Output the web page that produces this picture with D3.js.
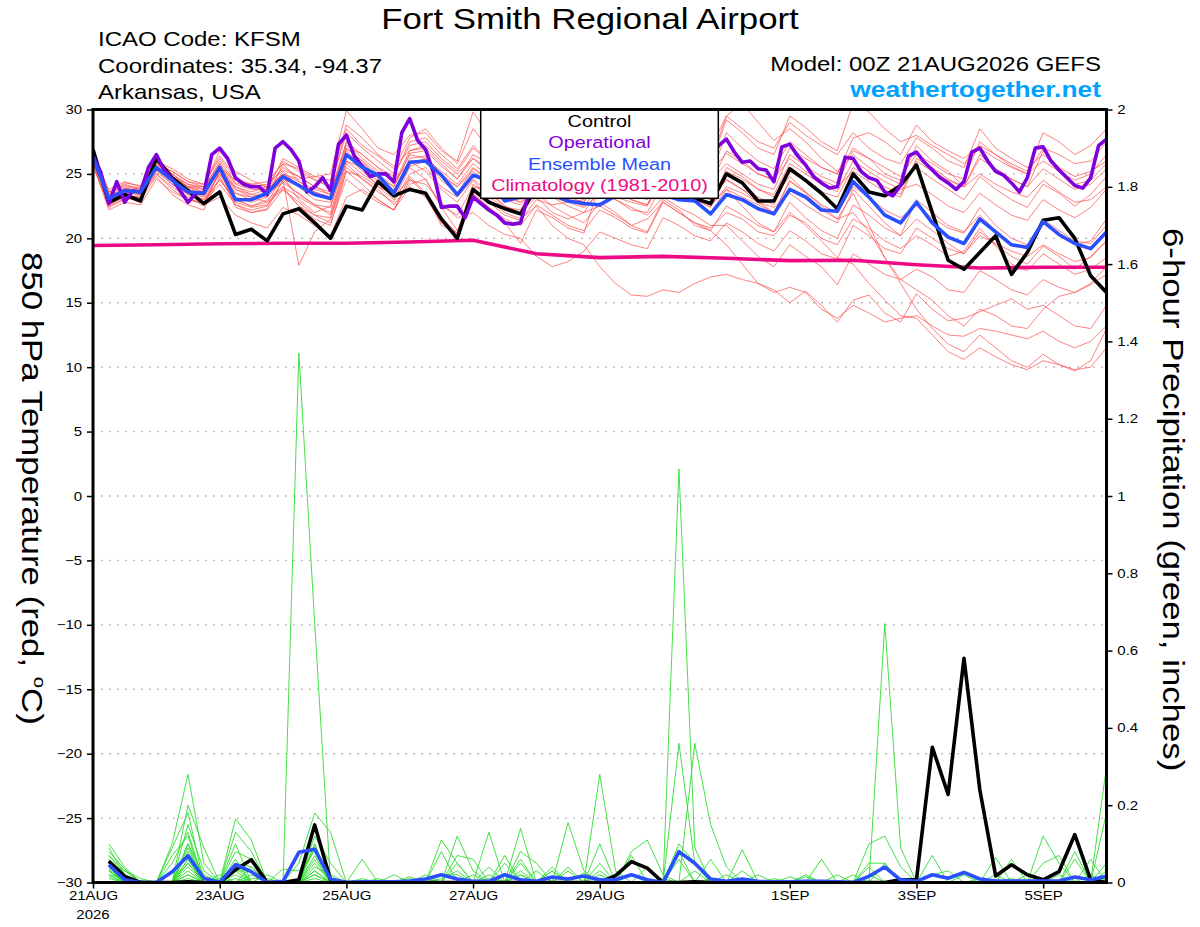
<!DOCTYPE html>
<html lang="en">
<head>
  <meta charset="UTF-8">
  <title>Fort Smith Regional Airport - GEFS plume</title>
  <script src="https://d3js.org/d3.v7.min.js"></script>
  <style>
    body { margin: 0; background: #fff; }
    text { font-family: "Liberation Sans", Arial, Helvetica, sans-serif; }
  </style>
</head>
<body>
  <svg id="chart" width="1200" height="927"></svg>
  <script>
    // 6-hourly steps from 00Z 21AUG2026 (index 0) to 00Z 6SEP2026 (index 64)
    const dateTickSteps = [0, 8, 16, 24, 32, 44, 52, 60];
    const dateTickLabels = ["21AUG", "23AUG", "25AUG", "27AUG", "29AUG", "1SEP", "3SEP", "5SEP"];
    const tempTicks = [-30, -25, -20, -15, -10, -5, 0, 5, 10, 15, 20, 25, 30];
    const precipTicks = [0, 0.2, 0.4, 0.6, 0.8, 1, 1.2, 1.4, 1.6, 1.8, 2];

    // 850 hPa temperature, deg C
    const controlTemp = [26.9,22.8,23.4,22.9, 26.2,24.7,23.7,22.7, 23.6,20.3,20.7,19.8, 21.9,22.3,21.2,20.0,
      22.5,22.2,24.4,23.3, 23.8,23.5,21.5,20.0, 23.8,22.8,22.3,21.9, 24.0,24.5,24.2,23.8,
      24.6,25.0,24.4,24.8, 24.5,24.0,23.1,22.7, 25.0,24.3,22.9,22.9, 25.4,24.5,23.5,22.3,
      25.0,23.6,23.3,24.1, 25.7,22.0,18.3,17.6, 18.9,20.2,17.2,18.9, 21.4,21.6,20.0,17.1, 15.8];

    const meanTemp = [26.3,23.1,23.7,23.6, 25.5,24.5,23.6,23.5, 25.5,23.0,23.0,23.5, 24.8,24.1,23.4,23.1,
      26.5,25.5,24.9,23.5, 25.9,26.0,24.9,23.4, 24.9,24.5,22.9,23.2, 23.6,23.4,22.9,22.7,
      22.6,23.3,23.8,23.6, 23.4,23.0,22.9,21.9, 23.4,23.0,22.3,21.9, 23.8,23.2,22.2,22.1,
      24.4,23.2,21.8,21.2, 22.8,21.2,20.1,19.6, 21.5,20.5,19.5,19.3, 21.3,20.3,19.6,19.2, 20.5];

    // operational run is 3-hourly (129 values)
    const operationalTemp = [26.4,25.1,22.7,24.4,22.8,23.7,23.6,25.5,26.5,25.3,
      24.6,23.7,22.8,23.5,23.5,26.5,27.0,26.2,24.7,24.2,
      24.0,24.0,23.4,27.0,27.5,26.9,26.0,23.6,24.0,24.7,
      23.7,27.3,28.0,26.4,25.6,24.8,25.0,25.0,24.4,28.2,
      29.3,27.6,26.9,25.1,22.4,22.5,22.5,21.6,23.2,22.7,
      22.2,21.8,21.2,21.1,21.2,23.4,24.5,25.5,25.8,26.0,
      25.2,24.8,25.5,26.5,27.0,26.8,26.0,25.2,24.6,24.2,
      25.0,26.2,26.9,26.5,25.8,25.3,24.8,25.0,26.0,27.2,
      27.7,26.7,25.9,26.0,25.4,25.3,24.4,27.1,27.3,26.4,
      25.7,24.8,24.3,23.9,24.0,26.3,26.2,25.2,24.7,24.5,
      23.6,23.3,24.1,26.4,26.7,25.9,25.3,24.7,24.3,23.8,
      24.4,26.7,27.0,26.0,25.2,24.9,24.3,23.6,24.7,27.0,
      27.1,26.0,25.3,24.7,24.1,23.9,24.7,27.2,27.7];

    // daily climatology 1981-2010
    const climTemp = [19.44,19.5,19.58,19.62,19.62,19.72,19.85,18.8,18.5,18.6,18.45,18.27,18.3,17.95,17.7,17.75,17.75];

    const tempMembers = [
      [26.0,23.5,24.2,23.8, 25.8,25.0,24.0,23.8, 26.0,24.3,24.0,24.2, 25.3,24.8,24.0,23.6, 27.5,26.5,25.5,24.2, 26.8,27.0,25.8,24.6, 26.5,25.8,24.6,24.2, 25.5,25.0,24.7,24.6, 25.8,25.4,24.8,24.2, 26.4,25.5,25.0,24.5, 25.8,25.0,24.2,23.8, 26.5,25.6,24.8,24.3, 26.8,26.2,25.0,24.5, 27.2,26.0,25.2,24.0, 26.5,25.4,24.6,24.0, 26.8,25.5,24.2,24.5, 25.8],
      [26.2,22.5,23.0,23.2, 25.0,24.0,23.2,22.5, 25.3,22.4,22.0,22.3, 24.5,17.9,20.5,21.5, 25.2,24.8,24.0,23.0, 25.5,24.6,22.5,21.8, 24.0,23.8,22.5,22.0, 23.2,22.0,21.5,22.0, 22.5,21.8,21.0,21.5, 22.8,22.0,21.2,20.8, 22.0,21.5,20.5,20.2, 21.8,21.2,20.0,19.5, 21.5,20.8,19.8,19.2, 20.2,19.5,18.6,19.0, 20.8,19.4,18.0,17.5, 18.8,18.0,17.2,17.6, 18.5],
      [26.5,23.8,24.4,24.0, 26.3,24.8,24.0,24.0, 25.5,24.5,24.2,24.0, 25.0,24.6,24.8,25.0, 29.9,28.5,27.0,26.5, 28.0,28.2,26.8,26.0, 29.8,28.0,26.5,25.5, 28.5,27.5,26.0,25.5, 29.0,28.2,27.0,26.2, 28.5,27.8,26.5,26.0, 29.5,28.5,27.5,27.0, 29.0,28.0,27.2,26.5, 28.2,27.0,26.2,25.8, 27.8,27.0,26.0,25.5, 28.5,27.0,26.2,25.5, 26.5,25.5,24.8,25.2, 26.0],
      [25.8,22.8,23.5,23.4, 25.2,24.2,23.5,23.0, 25.0,23.5,23.2,22.8, 24.8,23.0,22.0,22.5, 26.0,25.0,24.2,23.5, 25.6,26.0,24.5,23.5, 25.0,24.0,23.2,22.8, 24.2,23.5,23.0,22.5, 24.0,23.2,22.8,22.5, 24.5,23.5,22.8,22.0, 23.8,22.5,21.2,20.5, 22.0,21.0,19.8,18.5, 18.0,16.5,15.2,14.0, 13.8,12.5,11.2,10.6, 11.5,10.8,10.2,9.8, 10.5,10.2,9.8,10.0, 11.5],
      [26.5,23.2,23.8,23.5, 25.5,24.5,23.5,23.2, 25.0,23.0,22.5,23.0, 24.0,23.2,22.5,22.0, 26.0,25.5,24.0,23.5, 26.0,25.2,23.8,22.8, 24.5,23.0,22.0,21.5, 22.5,21.0,20.0,19.5, 17.8,16.5,15.6,15.5, 16.0,15.8,16.5,17.0, 17.2,16.8,16.5,16.0, 15.0,15.9,14.8,13.5, 15.2,15.6,14.2,13.5, 15.7,14.5,13.6,13.8, 14.3,14.8,15.3,14.5, 14.8,14.0,13.2,13.0, 14.8],
      [26.2,23.0,23.8,23.6, 25.6,24.6,23.8,23.5, 25.5,23.5,23.0,23.5, 25.2,24.0,23.0,22.8, 27.0,26.0,25.0,24.0, 26.5,26.2,25.0,24.0, 25.5,24.5,23.5,23.0, 24.5,23.8,23.2,22.8, 24.6,23.5,23.0,22.6, 25.0,24.0,23.2,22.5, 24.0,23.5,22.8,22.0, 24.5,23.5,22.2,21.5, 22.0,20.5,18.5,16.5, 14.5,13.0,11.8,11.2, 12.5,11.5,10.5,10.0, 11.0,10.2,9.7,10.5, 13.0],
      [26.0,23.0,23.6,23.4, 25.4,24.4,23.6,23.3, 25.8,23.2,22.8,23.2, 24.6,24.0,23.4,23.0, 26.8,25.6,24.8,23.6, 26.2,26.4,25.0,23.5, 25.4,24.6,23.4,22.8, 23.8,23.2,22.8,22.4, 23.5,23.0,22.2,22.0, 24.2,23.6,23.0,22.6, 23.8,23.2,22.6,22.0, 24.4,23.6,22.6,22.0, 24.0,23.2,22.2,21.6, 22.5,21.6,20.8,20.4, 22.4,21.0,20.0,19.5, 21.5,20.6,19.8,19.6, 21.0],
      [26.4,23.6,24.0,23.8, 26.2,25.0,24.2,24.0, 26.8,25.2,24.5,24.0, 26.0,25.2,24.5,24.0, 28.2,27.0,26.0,25.0, 27.2,27.5,26.2,25.2, 27.0,26.0,25.2,24.6, 26.5,26.2,25.5,25.0, 27.5,26.6,25.6,25.0, 27.0,26.0,25.2,24.8, 28.2,27.0,26.0,25.4, 27.5,26.5,25.5,25.0, 27.0,26.2,25.5,24.8, 26.5,25.8,25.0,24.6, 27.5,26.5,25.6,25.0, 27.0,26.5,25.8,26.0, 27.5],
      [25.6,22.6,23.2,23.3, 25.0,23.8,23.0,22.8, 24.6,22.8,22.4,22.6, 24.0,22.5,21.8,21.6, 25.5,24.6,23.6,22.8, 25.0,25.5,24.0,23.2, 24.6,23.5,22.5,22.0, 23.5,22.5,21.8,21.2, 22.8,22.0,21.0,20.5, 23.0,22.2,21.0,20.6, 19.5,18.0,16.5,15.8, 16.2,15.8,14.5,13.8, 14.8,14.2,13.5,13.8, 14.0,13.2,12.5,12.4, 13.0,12.8,12.5,12.2, 12.8,12.0,11.5,12.0, 13.2],
      [26.0,23.2,23.9,23.7, 25.6,24.8,24.0,23.6, 25.2,23.8,23.2,23.6, 24.3,23.5,22.6,22.4, 26.5,25.2,24.5,23.8, 25.8,26.2,25.2,24.2, 25.8,24.8,23.8,23.2, 24.8,23.8,23.0,22.8, 25.0,24.2,23.4,23.0, 25.6,24.6,23.8,23.0, 25.2,24.6,23.8,23.2, 24.8,23.6,22.5,21.5, 23.5,21.0,18.5,16.8, 16.0,15.2,14.0,13.2, 14.5,14.0,13.2,13.0, 14.5,15.5,15.8,16.5, 17.8],
      [26.6,23.4,24.1,23.9, 25.9,24.4,23.4,22.8, 24.2,22.6,22.2,22.5, 24.5,23.4,22.6,21.8, 25.8,24.6,23.8,22.6, 24.2,24.6,22.4,20.6, 23.6,22.8,21.8,21.4, 23.0,22.6,22.8,23.0, 24.5,24.0,23.6,23.2, 24.8,24.2,23.4,23.0, 24.6,23.8,23.2,22.6, 25.2,24.4,23.6,23.2, 25.5,24.8,24.0,23.4, 26.2,25.5,24.6,24.0, 25.0,24.2,23.6,23.2, 24.5,23.6,22.8,23.0, 24.0],
      [25.9,22.9,23.6,23.6, 25.7,25.2,24.4,24.0, 25.8,24.2,23.8,23.8, 25.0,24.4,23.8,23.4, 27.2,26.5,25.5,24.8, 27.5,27.8,26.5,25.4, 27.2,26.0,25.0,24.5, 28.5,29.8,28.5,27.0, 27.0,26.2,25.5,25.2, 26.5,27.5,28.2,27.0, 29.5,30.5,29.0,27.6, 28.5,27.5,26.2,25.2, 26.5,25.5,24.8,24.2, 25.5,24.6,23.8,23.0, 24.8,23.8,23.0,22.4, 24.2,23.5,22.5,23.4, 24.8],
      [25.7,22.4,23.1,23.0, 24.8,23.4,22.6,22.2, 24.8,22.6,22.0,22.2, 23.8,22.8,21.8,21.2, 24.6,23.6,22.8,22.2, 24.8,23.5,21.6,20.4, 23.4,22.4,21.5,21.0, 22.6,21.8,21.0,20.6, 22.2,21.6,20.8,20.4, 22.8,22.0,21.2,20.6, 22.5,21.8,21.0,20.5, 22.8,21.6,20.6,20.0, 22.6,21.8,20.8,20.2, 23.0,22.0,21.0,20.5, 21.8,20.6,19.6,19.2, 21.2,20.2,19.5,19.8, 21.5],
      [26.1,23.3,23.9,23.6, 25.6,24.6,23.9,23.6, 25.6,23.8,23.4,23.8, 24.9,24.2,23.6,23.2, 26.6,25.8,24.8,24.0, 26.6,26.8,25.6,24.6, 26.2,25.4,24.5,23.8, 25.2,24.6,24.0,23.6, 25.8,25.0,24.2,23.8, 26.2,25.6,24.8,24.2, 26.8,26.0,25.0,24.5, 27.0,26.2,25.5,25.0, 27.8,28.2,27.5,26.5, 28.8,27.5,26.8,26.2, 27.2,26.5,25.8,25.2, 28.2,27.5,26.5,27.2, 28.5],
      [26.3,22.7,23.3,23.2, 25.3,24.2,23.4,23.0, 24.5,23.0,22.5,22.8, 23.8,22.5,21.5,21.0, 25.2,24.2,23.0,22.2, 24.5,24.2,22.8,21.6, 22.0,21.0,20.3,20.0, 18.6,17.8,18.2,19.0, 20.5,20.0,19.5,19.2, 21.6,21.0,20.2,19.8, 21.2,20.5,19.6,19.0, 20.6,19.8,18.8,18.4, 21.0,20.2,19.2,18.8, 20.8,20.0,19.2,18.8, 20.2,19.6,19.0,18.6, 19.5,18.8,18.2,18.5, 19.8],
      [26.8,22.6,23.2,22.8, 25.6,24.6,23.8,22.6, 23.2,21.8,21.2,20.8, 22.4,21.8,21.0,20.2, 23.2,23.8,23.0,22.2, 24.0,23.2,21.2,20.4, 24.2,23.2,22.4,22.2, 24.6,24.0,23.5,23.2, 25.2,24.6,23.8,23.2, 24.8,24.0,23.0,22.4, 25.5,24.8,23.8,23.4, 25.8,25.0,24.2,23.6, 26.0,25.2,24.4,23.8, 24.2,23.4,22.5,22.0, 23.5,22.6,21.8,21.4, 23.0,22.2,21.6,22.4, 23.8],
      [26.2,23.1,23.7,23.5, 25.9,25.2,24.4,24.2, 26.2,24.6,24.2,24.4, 25.8,25.4,24.6,24.0, 28.5,27.2,26.4,25.4, 27.8,28.5,27.0,25.8, 28.5,27.0,25.8,25.2, 26.8,26.2,25.5,25.0, 27.2,26.5,25.8,25.5, 28.0,27.0,26.2,25.8, 29.2,28.2,27.0,26.5, 29.5,28.6,27.5,26.8, 30.5,29.8,28.5,27.5, 28.0,27.2,26.5,25.8, 27.0,26.2,25.5,25.0, 26.0,25.2,24.5,25.0, 26.5],
      [25.9,23.0,23.7,23.5, 25.5,24.8,24.2,23.8, 25.6,24.0,23.6,24.0, 25.5,24.8,24.0,23.4, 27.4,26.2,25.2,24.4, 26.0,26.0,24.8,24.0, 25.2,24.2,23.0,22.6, 24.0,23.2,22.5,22.0, 23.8,23.0,22.4,21.8, 23.2,22.4,21.8,21.0, 21.0,19.8,18.6,17.8, 19.5,18.6,17.8,16.4, 18.8,18.0,17.2,16.8, 17.6,17.0,16.0,15.8, 17.5,16.8,16.0,15.6, 16.8,16.2,15.8,16.4, 17.2],
      [26.3,23.6,24.3,24.1, 26.0,25.4,24.6,24.2, 26.4,24.8,24.0,23.8, 26.2,25.5,24.8,24.5, 28.8,27.8,26.5,25.6, 26.8,27.2,26.0,25.0, 26.2,25.2,24.4,24.0, 25.8,25.2,24.8,24.4, 26.5,26.0,25.2,24.6, 27.5,26.8,25.8,25.2, 26.6,25.8,25.0,24.6, 26.2,25.2,24.5,24.0, 25.2,24.4,23.6,23.2, 26.0,25.2,24.5,24.0, 26.2,25.4,24.6,24.0, 25.4,24.6,23.8,24.2, 25.4],
      [25.8,22.2,22.8,22.6, 24.6,23.6,23.0,22.7, 25.2,24.0,23.4,23.2, 25.8,24.4,23.6,23.0, 27.0,26.0,24.6,23.2, 24.6,23.4,21.0,20.4, 23.5,22.4,21.2,19.6, 22.2,21.6,20.8,20.4, 24.2,23.6,23.0,22.6, 25.2,24.4,23.6,23.2, 24.5,23.8,22.8,22.4, 23.5,22.6,21.8,21.2, 23.8,22.5,21.2,20.2, 21.5,20.6,19.6,18.8, 20.5,19.5,18.6,18.0, 19.4,18.6,17.6,18.6, 19.8]
    ];

    // 6-hour precipitation, inches, valid at steps 1..64
    const controlPrecip = [.055,.016,0,0,0,.002,0,0, .033,.059,0,0,.007,.149,.007,0,
      0,0,0,0,0,0,0,0, 0,0,0,0,0,0,0,0,
      .018,.054,.037,0,0,.002,0,0, 0,0,0,0,0,0,0,0,
      0,0,.007,.007,.35,.228,.58,.24, .017,.046,.02,.007,.028,.124,.007,0];

    const meanPrecip = [.046,.007,0,0,.028,.069,.011,0, .046,.028,0,.003,.078,.086,.009,0,
      .002,.002,.002,.004,.009,.02,.009,.003, .003,.02,.007,.003,.014,.009,.017,.007,
      .007,.02,.007,0,.08,.05,.009,.003, .009,.003,.002,.002,.003,.003,.002,0,
      .016,.04,.007,.003,.02,.011,.026,.009, .004,.004,.004,.004,.004,.014,.007,.016];

    const precipMembers = [
      [.10,.04,0,0,.10,.28,.05,0, .165,.11,0,0,.05,.18,.13,0, 0,0,0,0,0,.11,.05,0, 0,0,.14,0,0,0,0,.03, 0,0,0,0,.10,.05,0,0, 0,0,0,0,0,0,0,0, .10,.12,.04,0,0,0,0,0, 0,0,0,.12,.05,0,0,.05],
      [.08,.035,0,0,0,.20,.09,0, .13,.08,0,0,1.37,.67,0,0, 0,0,0,0,0,0,0,0, .13,0,0,0,0,.04,0,0, 0,.08,.11,.02,0,0,0,0, 0,0,0,0,0,.06,0,0, 0,0,0,0,.07,0,0,0, .065,0,0,0,0,0,0,.30],
      [.07,.03,.01,0,.09,.18,0,0, .10,0,0,0,0,.15,0,0, .06,0,0,0,0,0,.12,.03, 0,0,0,0,0,0,0,.28, .03,0,0,0,1.07,.09,0,0, .085,0,0,0,0,0,0,0, 0,0,0,0,0,0,0,0, 0,0,0,0,0,.08,0,0],
      [.06,0,0,0,0,.15,.03,0, .08,.06,0,0,0,.12,.05,0, 0,0,0,0,0,.08,0,0, 0,0,.08,.05,0,0,0,0, 0,0,0,0,.36,.05,0,0, 0,0,0,0,0,0,0,0, 0,.67,.09,0,0,0,0,0, 0,.06,0,0,0,0,.06,0],
      [.05,.02,0,0,.05,.13,0,0, .06,0,0,0,0,.10,0,0, 0,0,.02,0,0,0,0,0, 0,.07,0,0,0,.155,.03,0, 0,0,0,0,0,.36,.15,.04, 0,0,0,0,0,0,0,0, 0,0,0,0,0,0,0,0, .02,0,0,0,0,0,0,.18],
      [.05,0,0,0,0,.10,0,0, 0,.04,0,.035,.03,.08,0,0, 0,0,0,.015,0,0,.07,.06, 0,0,0,0,.04,0,0,.10, 0,0,0,0,0,0,.06,0, 0,0,0,0,.02,0,0,0, .05,.05,0,0,0,0,0,0, 0,0,0,.05,.07,0,0,0],
      [.04,0,0,0,0,.10,.02,0, .05,0,0,0,0,.06,0,0, 0,0,0,0,.02,0,0,0, .04,0,.06,0,0,0,0,0, 0,.07,0,0,.08,0,0,0, 0,0,0,.015,0,0,0,0, 0,0,0,0,.02,.03,0,0, 0,0,0,0,0,.06,0,0],
      [.03,0,.005,0,0,.08,0,0, .03,0,.02,0,0,.05,0,0, 0,0,0,0,0,0,0,.02, 0,.05,0,0,.03,0,0,0, 0,0,.04,0,0,0,0,.02, 0,0,0,0,0,0,.02,0, .04,0,0,0,0,0,.02,0, 0,0,.02,0,0,0,0,.02],
      [.03,0,0,0,0,.06,0,.01, 0,0,0,0,0,.03,0,0, 0,.01,0,0,.01,0,0,0, 0,0,.05,0,0,0,.025,0, 0,0,0,0,.06,0,0,0, 0,.02,0,0,0,0,0,0, 0,.05,0,0,0,0,0,.01, 0,0,0,0,0,0,.02,0],
      [.02,0,0,0,0,.05,0,.02, 0,.01,.01,0,0,0,0,0, 0,0,0,.01,0,0,0,0, 0,0,0,.03,0,0,0,0, 0,0,0,0,0,0,0,0, 0,0,.01,0,.015,0,0,.02, 0,0,0,0,0,0,0,0, 0,0,0,0,0,0,0,0],
      [.09,.02,0,0,.07,.12,0,0, .05,.04,0,0,0,.10,0,0, 0,0,0,0,0,0,.05,0, .02,0,.03,0,.03,0,0,.02, 0,0,0,0,0,.03,0,0, .03,0,0,0,0,0,0,0, 0,0,0,0,0,0,0,0, 0,0,0,0,0,0,0,.03],
      [.07,.02,0,0,0,.09,0,0, .04,0,0,0,0,.07,0,0, .01,0,0,0,0,0,0,0, 0,0,0,0,0,.03,0,0, 0,0,0,.01,0,0,0,0, 0,0,0,0,0,0,0,0, 0,0,0,0,0,0,0,0, 0,.01,0,0,0,0,0,0],
      [.06,.01,0,0,0,.06,0,0, 0,.02,0,0,0,.04,.02,0, 0,0,0,0,0,.02,.02,0, 0,0,0,0,0,0,0,0, 0,.02,0,0,0,0,0,0, 0,0,0,0,0,0,0,0, 0,0,0,0,0,0,0,0, 0,0,0,0,.02,0,0,0],
      [.05,.03,0,0,.03,.07,.01,0, .02,0,0,0,0,.09,0,0, 0,0,0,0,0,0,0,0, 0,0,.02,0,0,0,0,.05, 0,0,0,0,0,0,0,0, 0,0,0,0,0,0,0,0, 0,0,0,0,0,0,0,0, 0,0,0,0,0,0,0,0],
      [.04,0,0,0,0,.04,0,0, .03,.03,0,0,0,.02,0,0, 0,0,0,0,0,.01,.03,0, .01,0,0,0,0,0,0,0, 0,0,0,0,0,0,0,0, 0,0,0,0,0,0,0,0, .02,0,0,0,0,0,0,0, 0,0,0,.01,0,0,0,0],
      [.03,0,0,0,0,.03,0,0, 0,0,0,0,0,0,0,0, 0,0,0,0,0,0,0,0, 0,0,0,0,0,0,0,0, 0,0,0,0,0,0,.01,0, 0,0,0,0,0,0,0,0, 0,0,0,0,0,0,0,0, 0,0,0,0,0,0,0,0],
      [.02,.01,0,0,0,.02,0,0, .01,0,0,0,0,.02,0,0, 0,0,0,0,0,0,0,0, 0,0,.02,0,0,0,0,0, 0,0,0,0,0,0,0,0, 0,0,0,0,0,0,0,0, 0,0,0,0,0,0,0,0, 0,0,0,0,0,0,0,0],
      [.01,0,0,0,0,.01,0,0, 0,0,0,0,0,.01,0,0, 0,0,0,0,0,0,0,0, 0,0,0,0,0,0,0,0, 0,0,0,0,0,0,0,0, 0,0,0,0,0,0,0,0, 0,0,0,0,0,0,0,0, 0,0,0,0,0,0,0,0],
      [.035,0,0,0,0,.05,0,0, 0,0,0,0,0,.03,0,0, 0,0,0,0,0,0,0,0, 0,0,0,0,0,0,0,0, 0,0,0,0,0,0,0,0, 0,0,0,0,0,0,0,0, 0,0,0,0,0,0,0,0, 0,0,0,0,0,0,0,.01],
      [.015,0,0,0,0,.02,0,0, 0,0,0,0,0,0,0,0, 0,0,0,0,0,0,0,0, 0,0,0,0,0,0,0,0, 0,0,0,0,0,0,0,0, 0,0,0,0,0,0,0,0, 0,0,0,0,0,0,0,0, 0,0,0,0,0,0,0,0]
    ];

    const legendItems = [
      { label: "Control", color: "#000000" },
      { label: "Operational", color: "#7f00dc" },
      { label: "Ensemble Mean", color: "#2a4fff" },
      { label: "Climatology (1981-2010)", color: "#ee0a85" }
    ];

    // the source glyphs are about 20% wider than Liberation Sans
    const SX = 1.2;
    const plot = { left: 93, right: 1106.5, top: 109.5, bottom: 882.5 };

    const svg = d3.select("#chart");

    const x = d3.scaleLinear().domain([0, 64]).range([plot.left, plot.right]);
    const yT = d3.scaleLinear().domain([-30, 30]).range([plot.bottom, plot.top]);
    const yP = d3.scaleLinear().domain([0, 2]).range([plot.bottom, plot.top]);

    function addText(str, px, py, size, anchor, color, weight) {
      return svg.append("text")
        .attr("transform", `translate(${px},${py}) scale(${SX},1)`)
        .attr("text-anchor", anchor)
        .attr("font-size", size)
        .attr("font-weight", weight || "normal")
        .attr("fill", color || "#000")
        .text(str);
    }

    // header
    addText("Fort Smith Regional Airport", 590, 29, 29, "middle");
    addText("ICAO Code: KFSM", 98, 46, 20, "start");
    addText("Coordinates: 35.34, -94.37", 98, 72.5, 20, "start");
    addText("Arkansas, USA", 98, 99, 20, "start");
    addText("Model: 00Z 21AUG2026 GEFS", 1101, 71, 20, "end");
    addText("weathertogether.net", 1101, 96.5, 22, "end", "#00a2ff", "bold");

    // dotted grid at every temperature tick
    svg.append("g")
      .selectAll("line")
      .data(tempTicks.filter(t => t > -30 && t < 30))
      .join("line")
      .attr("x1", plot.left).attr("x2", plot.right)
      .attr("y1", d => yT(d)).attr("y2", d => yT(d))
      .attr("stroke", "#b8b8b8")
      .attr("stroke-width", 1.3)
      .attr("stroke-dasharray", "2,6");

    svg.append("clipPath").attr("id", "plot-clip")
      .append("rect")
      .attr("x", plot.left).attr("y", plot.top)
      .attr("width", plot.right - plot.left).attr("height", plot.bottom - plot.top);

    const data = svg.append("g").attr("clip-path", "url(#plot-clip)");

    const tempLine = d3.line().x((d, i) => x(i)).y(d => yT(d));
    const precipLine = d3.line().x((d, i) => x(i + 1)).y(d => yP(d));
    const opLine = d3.line().x((d, j) => x(j / 2)).y(d => yT(d));
    const climLine = d3.line().x((d, k) => x(k * 4)).y(d => yT(d));

    // members
    data.append("g").selectAll("path")
      .data(precipMembers)
      .join("path")
      .attr("d", precipLine)
      .attr("fill", "none")
      .attr("stroke", "#2fdc2f")
      .attr("stroke-width", 0.9);

    data.append("g").selectAll("path")
      .data(tempMembers)
      .join("path")
      .attr("d", tempLine)
      .attr("fill", "none")
      .attr("stroke", "#ff4545")
      .attr("stroke-opacity", 0.8)
      .attr("stroke-width", 0.85);

    function thick(d, gen, color) {
      data.append("path")
        .datum(d)
        .attr("d", gen)
        .attr("fill", "none")
        .attr("stroke", color)
        .attr("stroke-width", 3.6)
        .attr("stroke-linejoin", "round");
    }

    thick(climTemp, climLine, legendItems[3].color);
    thick(controlPrecip, precipLine, legendItems[0].color);
    thick(meanPrecip, precipLine, legendItems[2].color);
    thick(controlTemp, tempLine, legendItems[0].color);
    thick(operationalTemp, opLine, legendItems[1].color);
    thick(meanTemp, tempLine, legendItems[2].color);

    // legend box sits on the top edge of the plot
    svg.append("rect")
      .attr("x", 480.7).attr("y", plot.top)
      .attr("width", 237.6).attr("height", 88.8)
      .attr("fill", "#fff")
      .attr("stroke", "#000")
      .attr("stroke-width", 1.5);
    legendItems.forEach((item, k) => {
      addText(item.label, 599.5, 126.7 + k * 21.45, 16.5, "middle", item.color);
    });

    // axes
    function styleAxis(g) {
      g.select(".domain").remove();
      g.selectAll(".tick line").attr("stroke", "#000").attr("stroke-width", 1.5);
      g.selectAll(".tick text")
        .attr("font-size", 12.5)
        .attr("fill", "#000")
        .attr("font-family", "'Liberation Sans', Arial, sans-serif")
        .attr("transform", `scale(${SX},1)`);
    }

    svg.append("g")
      .attr("transform", `translate(${plot.left},0)`)
      .call(d3.axisLeft(yT).tickValues(tempTicks).tickSize(6).tickPadding(3))
      .call(styleAxis);

    svg.append("g")
      .attr("transform", `translate(${plot.right},0)`)
      .call(d3.axisRight(yP).tickValues(precipTicks).tickSize(6).tickPadding(3).tickFormat(d3.format("~g")))
      .call(styleAxis);

    svg.append("g")
      .attr("transform", `translate(0,${plot.bottom})`)
      .call(d3.axisBottom(x).tickValues(dateTickSteps).tickSize(6).tickPadding(3)
        .tickFormat((d, k) => dateTickLabels[k]))
      .call(styleAxis);
    addText("2026", x(0), 919, 12.5, "middle");

    // frame
    svg.append("rect")
      .attr("x", plot.left).attr("y", plot.top)
      .attr("width", plot.right - plot.left).attr("height", plot.bottom - plot.top)
      .attr("fill", "none")
      .attr("stroke", "#000")
      .attr("stroke-width", 3);

    // axis titles, read top to bottom
    svg.append("text")
      .attr("transform", `translate(21.7,252) rotate(90) scale(${SX},1)`)
      .attr("font-size", 29)
      .text("850 hPa Temperature (red, ")
      .append("tspan").attr("font-size", 17).attr("dy", -12).text("o")
      .select(function () { return this.parentNode; })
      .append("tspan").attr("dy", 12).text("C)");

    svg.append("text")
      .attr("transform", `translate(1163.3,228) rotate(90) scale(${SX},1)`)
      .attr("font-size", 29)
      .text("6-hour Precipitation (green, inches)");
  </script>
</body>
</html>
